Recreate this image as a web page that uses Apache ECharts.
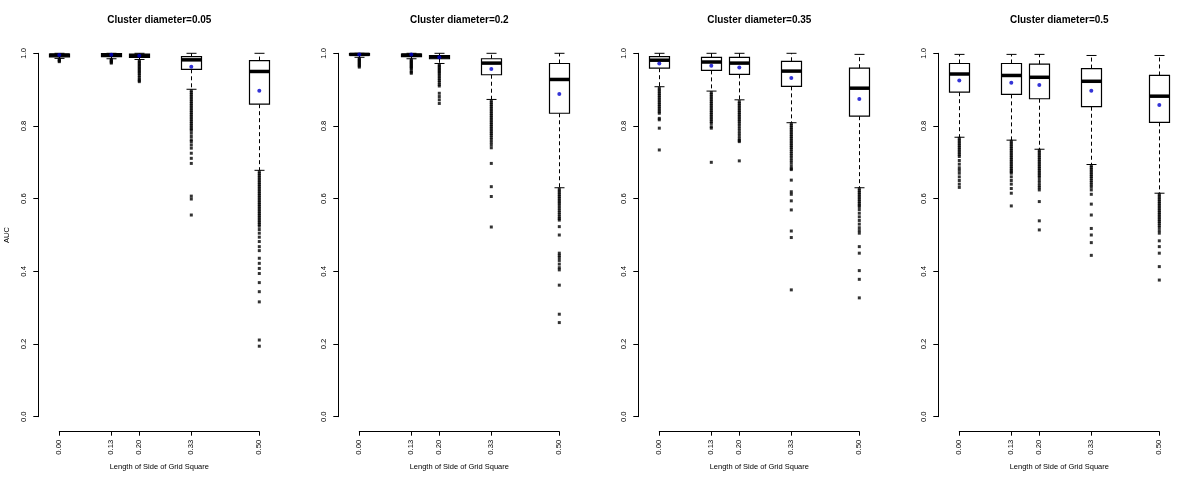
<!DOCTYPE html>
<html>
<head>
<meta charset="utf-8">
<script src="https://cdn.jsdelivr.net/npm/echarts@6/dist/echarts.min.js"></script>
<style>html,body{margin:0;padding:0;background:#fff}#c{width:1200px;height:480px}</style>
</head>
<body>
<div id="c"></div>
<script>
// ---- data ----
const xPositions = [0, 0.13, 0.2, 0.33, 0.5];
const xTickLabels = ['0.00', '0.13', '0.20', '0.33', '0.50'];
const yTickValues = [0, 0.2, 0.4, 0.6, 0.8, 1.0];
const panelTitles = ['Cluster diameter=0.05', 'Cluster diameter=0.2', 'Cluster diameter=0.35', 'Cluster diameter=0.5'];
const xAxisTitle = 'Length of Side of Grid Square';
const yAxisTitle = 'AUC';

// box stats per x: [lower whisker, Q1, median, Q3, upper whisker]
const box_d005 = [[0.986,0.990,0.995,0.998,1.0],[0.985,0.991,0.996,0.999,1.0],[0.983,0.989,0.993,0.998,1.0],[0.901,0.956,0.982,0.991,1.0],[0.678,0.860,0.950,0.980,1.0]];
const mean_d005 = [0.995,0.996,0.993,0.963,0.897];
const box_d02 = [[0.989,0.995,0.997,0.999,1.0],[0.985,0.991,0.995,0.998,1.0],[0.972,0.985,0.990,0.994,1.0],[0.873,0.941,0.973,0.985,1.0],[0.630,0.835,0.928,0.972,1.0]];
const mean_d02 = [0.997,0.997,0.989,0.957,0.888];
const box_d035 = [[0.908,0.959,0.981,0.991,1.0],[0.896,0.953,0.976,0.989,1.0],[0.872,0.942,0.973,0.989,1.0],[0.809,0.909,0.951,0.978,1.0],[0.630,0.827,0.904,0.959,0.997]];
const mean_d035 = [0.972,0.966,0.961,0.932,0.874];
const box_d05 = [[0.769,0.893,0.943,0.972,0.997],[0.761,0.887,0.939,0.972,0.997],[0.736,0.875,0.934,0.970,0.997],[0.694,0.853,0.923,0.958,0.994],[0.615,0.810,0.882,0.939,0.994]];
const mean_d05 = [0.925,0.919,0.913,0.897,0.858];

// outliers per x
const out_d005 = [
  [0.984,0.981,0.979,0.977],
  [0.983,0.980,0.978,0.975,0.973],
  [0.980,0.976,0.972,0.968,0.964,0.960,0.956,0.952,0.948,0.944,0.939,0.934,0.929,0.925,0.922],
  [0.897,0.892,0.887,0.882,0.877,0.872,0.867,0.862,0.857,0.852,0.847,0.842,0.837,0.832,0.827,0.822,0.817,0.812,0.807,0.802,0.797,0.792,0.788,0.780,0.771,0.762,0.757,0.748,0.739,0.725,0.711,0.697,0.607,0.599,0.555],
  [0.674,0.669,0.664,0.659,0.654,0.649,0.644,0.639,0.634,0.629,0.624,0.619,0.614,0.609,0.604,0.599,0.594,0.589,0.584,0.579,0.574,0.569,0.564,0.559,0.554,0.549,0.544,0.539,0.534,0.529,0.524,0.515,0.505,0.494,0.482,0.468,0.457,0.436,0.422,0.408,0.394,0.369,0.344,0.316,0.211,0.194]
];
const out_d02 = [
  [0.986,0.983,0.980,0.977,0.974,0.971,0.968,0.965,0.962],
  [0.982,0.979,0.976,0.973,0.970,0.967,0.964,0.961,0.958,0.952,0.948,0.945],
  [0.969,0.965,0.961,0.957,0.953,0.949,0.945,0.940,0.935,0.930,0.925,0.920,0.914,0.910,0.890,0.881,0.872,0.862],
  [0.869,0.864,0.859,0.854,0.849,0.844,0.839,0.834,0.829,0.824,0.819,0.814,0.809,0.804,0.799,0.794,0.789,0.784,0.779,0.774,0.768,0.762,0.755,0.748,0.740,0.697,0.633,0.606,0.522],
  [0.626,0.621,0.616,0.611,0.606,0.601,0.596,0.591,0.586,0.580,0.574,0.568,0.562,0.556,0.550,0.545,0.541,0.523,0.500,0.450,0.444,0.438,0.430,0.420,0.410,0.404,0.362,0.282,0.259]
];
const out_d035 = [
  [0.904,0.899,0.894,0.889,0.884,0.879,0.874,0.869,0.864,0.859,0.854,0.849,0.844,0.839,0.835,0.821,0.817,0.794,0.734],
  [0.892,0.887,0.882,0.877,0.872,0.867,0.862,0.857,0.852,0.847,0.842,0.837,0.832,0.827,0.822,0.817,0.812,0.807,0.798,0.794,0.700],
  [0.867,0.862,0.857,0.852,0.847,0.842,0.837,0.832,0.827,0.822,0.817,0.812,0.806,0.800,0.793,0.786,0.779,0.772,0.765,0.760,0.757,0.704],
  [0.806,0.801,0.796,0.791,0.786,0.781,0.776,0.771,0.766,0.761,0.756,0.751,0.746,0.741,0.736,0.730,0.724,0.718,0.712,0.705,0.698,0.690,0.683,0.680,0.651,0.619,0.612,0.594,0.569,0.511,0.493,0.349],
  [0.627,0.622,0.617,0.612,0.607,0.602,0.597,0.592,0.587,0.582,0.578,0.570,0.560,0.550,0.540,0.530,0.520,0.512,0.505,0.468,0.450,0.402,0.378,0.327]
];
const out_d05 = [
  [0.766,0.761,0.756,0.751,0.746,0.741,0.736,0.731,0.726,0.721,0.716,0.705,0.695,0.685,0.678,0.670,0.660,0.650,0.640,0.631],
  [0.758,0.753,0.748,0.743,0.738,0.733,0.728,0.723,0.718,0.713,0.708,0.703,0.698,0.693,0.688,0.683,0.678,0.674,0.670,0.660,0.650,0.640,0.628,0.615,0.580],
  [0.733,0.728,0.723,0.718,0.713,0.708,0.703,0.698,0.693,0.688,0.683,0.678,0.673,0.668,0.663,0.658,0.650,0.643,0.636,0.630,0.624,0.592,0.539,0.514],
  [0.691,0.686,0.681,0.676,0.671,0.666,0.661,0.656,0.650,0.644,0.638,0.632,0.624,0.612,0.585,0.555,0.518,0.500,0.479,0.444],
  [0.612,0.607,0.602,0.597,0.592,0.587,0.582,0.577,0.572,0.567,0.562,0.557,0.552,0.547,0.542,0.537,0.532,0.526,0.520,0.512,0.505,0.484,0.468,0.450,0.413,0.376]
];

const panels = [
  { box: box_d005, mean: mean_d005, out: out_d005 },
  { box: box_d02, mean: mean_d02, out: out_d02 },
  { box: box_d035, mean: mean_d035, out: out_d035 },
  { box: box_d05, mean: mean_d05, out: out_d05 }
];

// ---- layout / style ----
const FONT = '"Liberation Sans", Arial, sans-serif';
const PANEL_W = 300, GRID_L = 59.3, GRID_W = 200, GRID_T = 53.3, GRID_H = 363.4;
const BOX_HALF = 10, CAP_HALF = 5;

const chart = echarts.init(document.getElementById('c'), null, { renderer: 'canvas' });

const grids = [], xAxes = [], yAxes = [], series = [], graphics = [];

function renderBox(params, api) {
  const x = api.value(0);
  const lo = api.coord([x, api.value(1)]);
  const q1 = api.coord([x, api.value(2)]);
  const md = api.coord([x, api.value(3)]);
  const q3 = api.coord([x, api.value(4)]);
  const hi = api.coord([x, api.value(5)]);
  const cx = Math.round(lo[0]) + 0.5;
  const thin = { stroke: '#000', lineWidth: 1 };
  return {
    type: 'group',
    children: [
      { type: 'line', shape: { x1: cx, y1: q3[1], x2: cx, y2: hi[1] }, style: Object.assign({ lineDash: [4, 3] }, thin) },
      { type: 'line', shape: { x1: cx, y1: q1[1], x2: cx, y2: lo[1] }, style: Object.assign({ lineDash: [4, 3] }, thin) },
      { type: 'line', shape: { x1: cx - CAP_HALF, y1: hi[1], x2: cx + CAP_HALF, y2: hi[1] }, style: thin },
      { type: 'line', shape: { x1: cx - CAP_HALF, y1: lo[1], x2: cx + CAP_HALF, y2: lo[1] }, style: thin },
      { type: 'rect', shape: { x: cx - BOX_HALF, y: q3[1], width: BOX_HALF * 2, height: q1[1] - q3[1] }, style: { fill: '#fff', stroke: '#000', lineWidth: 1.2 } },
      { type: 'line', shape: { x1: cx - BOX_HALF, y1: md[1], x2: cx + BOX_HALF, y2: md[1] }, style: { stroke: '#000', lineWidth: 3.5 } }
    ]
  };
}

panels.forEach((p, i) => {
  const left = GRID_L + PANEL_W * i;
  grids.push({ left: left, top: GRID_T, width: GRID_W, height: GRID_H, containLabel: false });
  xAxes.push({
    type: 'value', gridIndex: i, min: 0, max: 0.5, offset: 15,
    name: xAxisTitle, nameLocation: 'middle', nameGap: 29,
    nameTextStyle: { fontFamily: FONT, fontSize: 7.5, color: '#000' },
    axisLine: { show: true, onZero: false, lineStyle: { color: '#000', width: 1 } },
    axisTick: { show: true, length: 4, customValues: xPositions, lineStyle: { color: '#000' } },
    axisLabel: {
      show: true, rotate: 90, margin: 8, fontFamily: FONT, fontSize: 7.7, color: '#000',
      customValues: xPositions,
      formatter: v => { const k = xPositions.findIndex(t => Math.abs(t - v) < 1e-9); return k >= 0 ? xTickLabels[k] : ''; }
    },
    splitLine: { show: false }
  });
  yAxes.push({
    type: 'value', gridIndex: i, min: 0, max: 1, offset: 21,
    name: i === 0 ? yAxisTitle : '', nameLocation: 'middle', nameGap: 27, nameRotate: 90,
    nameTextStyle: { fontFamily: FONT, fontSize: 7.5, color: '#000' },
    axisLine: { show: true, onZero: false, lineStyle: { color: '#000', width: 1 } },
    axisTick: { show: true, length: 5, customValues: yTickValues, lineStyle: { color: '#000' } },
    axisLabel: {
      show: true, rotate: 90, margin: 10, fontFamily: FONT, fontSize: 7.7, color: '#000',
      customValues: yTickValues, formatter: v => v.toFixed(1)
    },
    splitLine: { show: false }
  });
  series.push({
    type: 'custom', xAxisIndex: i, yAxisIndex: i, renderItem: renderBox, clip: false,
    encode: { x: 0, y: [1, 2, 3, 4, 5] },
    data: xPositions.map((x, k) => [x].concat(p.box[k]))
  });
  const outPts = [];
  xPositions.forEach((x, k) => p.out[k].forEach(v => outPts.push([x, v])));
  series.push({
    type: 'scatter', xAxisIndex: i, yAxisIndex: i, symbol: 'rect', symbolSize: [3, 3],
    itemStyle: { color: '#000' }, data: outPts, silent: true
  });
  series.push({
    type: 'scatter', xAxisIndex: i, yAxisIndex: i, symbol: 'circle', symbolSize: 4,
    itemStyle: { color: '#0000CC' }, data: xPositions.map((x, k) => [x, p.mean[k]]), silent: true
  });
  graphics.push({
    type: 'text', x: left + GRID_W / 2, y: 20.7,
    style: { text: panelTitles[i], font: 'bold 10px ' + FONT, fill: '#000', align: 'center', verticalAlign: 'middle' }
  });
});

chart.setOption({
  animation: false,
  backgroundColor: '#fff',
  grid: grids, xAxis: xAxes, yAxis: yAxes, series: series, graphic: graphics
});
</script>
</body>
</html>
